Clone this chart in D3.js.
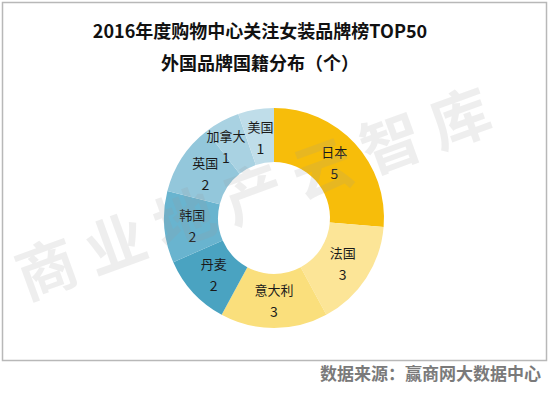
<!DOCTYPE html>
<html><head><meta charset="utf-8">
<script src="https://cdn.jsdelivr.net/npm/d3@7"></script>
<style>html,body{margin:0;padding:0;background:#fff;}svg{display:block;}</style>
</head><body>
<svg id="c" width="550" height="394"></svg>
<script>
const categories = ["日本","法国","意大利","丹麦","韩国","英国","加拿大","美国"];
const values = [5,3,3,2,2,2,1,1];
const colors = ["#F7BD0A","#FCE597","#FADF7C","#4AA3C1","#69B4CF","#93C7DB","#A9D2E2","#BFDDE9"];
const titleLines = ["2016年度购物中心关注女装品牌榜TOP50","外国品牌国籍分布（个）"];
const sourceText = "数据来源：赢商网大数据中心";
const watermark = "商业地产云智库";

const svg = d3.select("#c");
const font = "'Noto Sans CJK SC','Noto Sans',sans-serif";

svg.append("rect").attr("x",2.5).attr("y",2.5).attr("width",544).attr("height",358)
  .attr("fill","#fff").attr("stroke","#b8b8b8").attr("stroke-width",1.5);

svg.selectAll("text.title").data(titleLines).join("text")
  .attr("class","title").attr("x",260).attr("y",(d,i)=>38+i*32)
  .attr("text-anchor","middle").attr("font-family",font).attr("font-weight",700)
  .attr("font-size",18).attr("fill","#111").text(d=>d);

const cx=274, cy=218, rOuter=110, rInner=56, rLabel=82;
const data = categories.map((c,i)=>({name:c,value:values[i],color:colors[i]}));
const pie = d3.pie().value(d=>d.value).sort(null);
const arc = d3.arc().innerRadius(rInner).outerRadius(rOuter);
const labelArc = d3.arc().innerRadius(rLabel).outerRadius(rLabel);
const g = svg.append("g").attr("transform",`translate(${cx},${cy})`);
const arcs = pie(data);
g.selectAll("path").data(arcs).join("path").attr("d",arc).attr("fill",d=>d.data.color);

const lab = g.selectAll("g.lab").data(arcs).join("g").attr("class","lab");
lab.append("text").attr("class","nm").attr("text-anchor","middle").attr("y",-5)
  .attr("font-family",font).attr("font-size",13).attr("fill","#1a1a1a").text(d=>d.data.name);
lab.append("text").attr("text-anchor","middle").attr("y",17)
  .attr("font-family",font).attr("font-size",14).attr("fill","#1a1a1a").text(d=>d.data.value);

// positions with simple overlap avoidance (shift earlier label left, like the reference)
const pos = arcs.map(d=>labelArc.centroid(d));
const widths = [];
lab.select("text.nm").each(function(d,i){widths[i]=this.getComputedTextLength();});
for(let i=arcs.length-2;i>=0;i--){
  const j=i+1;
  const dy=Math.abs(pos[i][1]-pos[j][1]);
  if(dy<16){
    const need=(widths[i]+widths[j])/2+2;
    const gap=pos[j][0]-pos[i][0];
    if(gap>0 && gap<need) pos[i][0]-= (need-gap);
  }
}
lab.attr("transform",(d,i)=>`translate(${pos[i][0]},${pos[i][1]})`);

svg.append("text").attr("transform","translate(26,300) rotate(-20)")
  .attr("font-family",font).attr("font-weight",700).attr("font-size",60)
  .attr("textLength",500).attr("lengthAdjust","spacing")
  .attr("fill","#9a9a9a").attr("opacity",0.16).text(watermark);

svg.append("text").attr("x",541).attr("y",380).attr("text-anchor","end")
  .attr("font-family",font).attr("font-weight",700).attr("font-size",17)
  .attr("fill","#7a7a7a").text(sourceText);
</script>
</body></html>
